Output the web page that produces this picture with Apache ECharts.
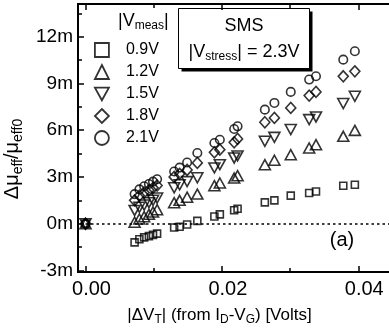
<!DOCTYPE html>
<html>
<head>
<meta charset="utf-8">
<script src="https://cdn.jsdelivr.net/npm/echarts@6/dist/echarts.min.js"></script>
<style>
html, body { margin: 0; padding: 0; background: #fff; }
#chart { width: 389px; height: 333px; }
</style>
</head>
<body>
<div id="chart"></div>
<script>
// shared |dVT| positions (V), values in units of 1e-3
const xVals = [0, 0.0072, 0.0079, 0.0086, 0.0093, 0.0099, 0.0105, 0.0130, 0.0138, 0.0149, 0.0164,
  0.0189, 0.0197, 0.0218, 0.0223, 0.0263, 0.0277, 0.0301, 0.0328, 0.0338, 0.0378, 0.0395]
const v09 = [0, -1.2, -1.0, -0.88, -0.8, -0.72, -0.64, -0.24, -0.2, -0.05, 0.18,
  0.46, 0.6, 0.86, 0.96, 1.37, 1.5, 1.8, 1.97, 2.07, 2.44, 2.5]
const v12 = [0, 0.1, 0.3, 0.45, 0.6, 0.75, 0.9, 1.35, 1.5, 1.7, 1.9,
  2.44, 2.61, 2.93, 3.08, 3.79, 4.07, 4.43, 4.86, 5.07, 5.61, 5.99]
const v15 = [0, 0.85, 1.05, 1.2, 1.35, 1.5, 1.65, 2.3, 2.5, 2.7, 2.95,
  3.58, 3.79, 4.22, 4.35, 5.29, 5.54, 6.04, 6.68, 6.85, 7.71, 8.18]
const v18 = [0, 1.5, 1.8, 2.0, 2.15, 2.3, 2.45, 3.0, 3.2, 3.45, 3.9,
  4.58, 4.75, 5.22, 5.44, 6.51, 6.79, 7.43, 8.22, 8.46, 9.46, 9.78]
const v21 = [0, 1.9, 2.2, 2.4, 2.55, 2.7, 2.85, 3.35, 3.6, 3.93, 4.54,
  5.18, 5.39, 6.08, 6.25, 7.32, 7.75, 8.46, 9.25, 9.46, 10.53, 11.07]
const names = ['0.9V', '1.2V', '1.5V', '1.8V', '2.1V']

const xMajor = [0, 0.02, 0.04]
const xMinor = [0.01, 0.03]
const yMajor = [-3, 0, 3, 6, 9, 12]
const yMinor = [-1.5, 1.5, 4.5, 7.5, 10.5, 13.5]
const zeroLine = [0, 0.0448]

const FONT = '"Liberation Sans", Arial, sans-serif'
const X_MIN = -0.0011, X_MAX = 0.0448, Y_MIN = -3.1, Y_MAX = 14.1
const mkRich = (big, small, drop) => ({
  n: { fontSize: big, fontFamily: FONT, color: '#000' },
  s: { fontSize: small, fontFamily: FONT, color: '#000', padding: [drop, 0, 0, 0] }
})

function xAx(pos, ticks, len, withLabels) {
  return {
    type: 'value', position: pos, min: X_MIN, max: X_MAX,
    splitLine: { show: false },
    axisLine: { show: false, onZero: false },
    axisTick: { inside: true, length: len, customValues: ticks, lineStyle: { color: '#000', width: 1.5 } },
    axisLabel: withLabels
      ? { customValues: ticks, margin: 7, color: '#000', fontSize: 20, fontFamily: FONT,
          padding: [0, 0, 0, 12], formatter: v => v.toFixed(2) }
      : { show: false }
  }
}
function yAx(ticks, len, withLabels) {
  return {
    type: 'value', position: 'left', min: Y_MIN, max: Y_MAX,
    splitLine: { show: false },
    axisLine: { show: false, onZero: false },
    axisTick: { inside: true, length: len, customValues: ticks, lineStyle: { color: '#000', width: 1.5 } },
    axisLabel: withLabels
      ? { customValues: ticks, margin: 5, color: '#000', fontSize: 19, fontFamily: FONT, formatter: v => v + 'm' }
      : { show: false }
  }
}

const xAxis = [xAx('bottom', xMajor, 6, true), xAx('bottom', xMinor, 4), xAx('top', xMajor, 6), xAx('top', xMinor, 4)]
xAxis[0].name = '{n||ΔV}{s|T}{n|| (from I}{s|D}{n|-V}{s|G}{n|) [Volts]}'
xAxis[0].nameLocation = 'middle'
xAxis[0].nameGap = 32
xAxis[0].nameTextStyle = { rich: mkRich(17, 12, 10), padding: [0, 30, 0, 0] }

const yAxis = [yAx(yMajor, 6, true), yAx(yMinor, 4)]
yAxis[0].name = '{n|Δμ}{s|eff}{n|/μ}{s|eff0}'
yAxis[0].nameLocation = 'middle'
yAxis[0].nameGap = 39
yAxis[0].nameTextStyle = { rich: mkRich(20, 14, 11), padding: [0, 42, 0, 0] }

const hollow = { color: 'rgba(0,0,0,0)', borderColor: '#000', borderWidth: 1.6 }
const marks = [
  { symbol: 'rect', size: 7, data: v09 },
  { symbol: 'triangle', size: [11, 10], data: v12 },
  { symbol: 'path://M0,0L10,0L5,9Z', size: [11, 10], data: v15 },
  { symbol: 'diamond', size: [10, 11], data: v18 },
  { symbol: 'circle', size: 8.5, data: v21 }
]
const series = marks.map((m, i) => ({
  name: names[i], type: 'scatter', symbol: m.symbol, symbolSize: m.size,
  itemStyle: hollow, emphasis: { disabled: true },
  data: m.data.map((v, j) => [xVals[j], v])
}))
series[0].markLine = {
  silent: true, symbol: 'none', label: { show: false },
  lineStyle: { color: '#000', width: 1.5, type: [2.5, 3] },
  data: [[{ coord: [zeroLine[0], 0] }, { coord: [zeroLine[1], 0] }]]
}

const chart = echarts.init(document.getElementById('chart'))
chart.setOption({
  animation: false,
  grid: { left: 78, top: 4, right: -2, bottom: 61, show: true, borderColor: '#000', borderWidth: 2,
    containLabel: false, outerBoundsMode: 'none' },
  xAxis, yAxis, series,
  legend: {
    orient: 'vertical', left: 94, top: 42, padding: 0, itemGap: 6,
    itemWidth: 14, itemHeight: 14, data: names,
    itemStyle: { borderWidth: 1.8 },
    textStyle: { fontSize: 16, fontFamily: FONT, color: '#000', padding: [0, 0, 0, 12] }
  },
  graphic: [
    { type: 'text', left: 118, top: 12, style: { text: '{n||V}{s|meas}{n||}', rich: mkRich(18, 12, 10) } },
    { type: 'rect', shape: { x: 181.5, y: 11.5, width: 131, height: 60 }, style: { fill: '#000' } },
    { type: 'rect', shape: { x: 178.5, y: 8.5, width: 131, height: 60 }, style: { fill: '#fff', stroke: '#000', lineWidth: 1 } },
    { type: 'text', x: 244, y: 26, style: { text: 'SMS', font: '18px ' + FONT, fill: '#000', align: 'center', verticalAlign: 'middle' } },
    { type: 'text', x: 244, y: 52, style: { text: '{n||V}{s|stress}{n|| = 2.3V}', rich: mkRich(18, 12, 10), align: 'center', verticalAlign: 'middle' } },
    { type: 'text', x: 342, y: 240, style: { text: '(a)', font: '20px ' + FONT, fill: '#000', align: 'center', verticalAlign: 'middle' } }
  ]
})
</script>
</body>
</html>
